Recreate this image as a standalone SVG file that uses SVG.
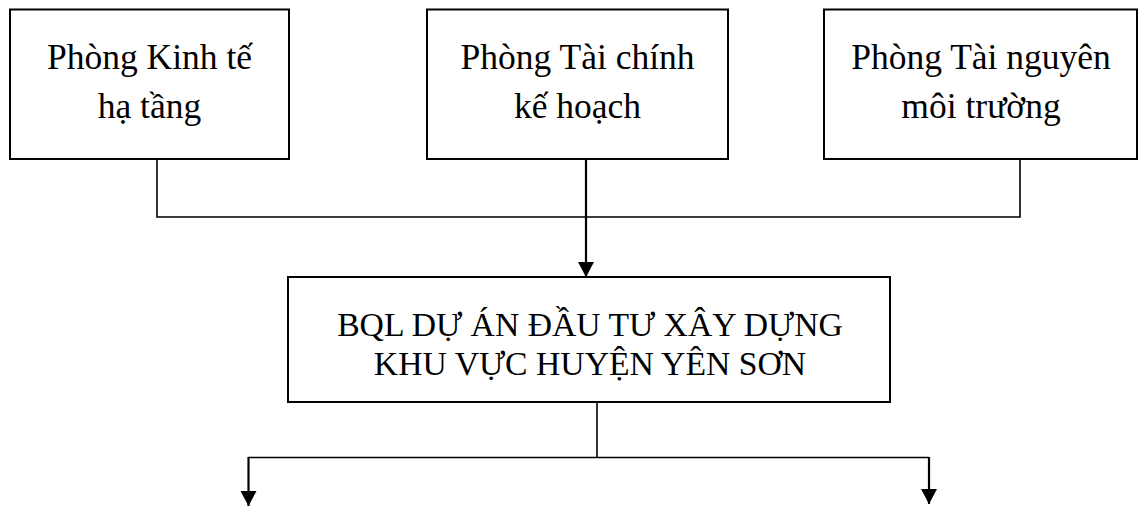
<svg xmlns="http://www.w3.org/2000/svg" width="1138" height="506" viewBox="0 0 1138 506">
<style>
.box{fill:#fff;stroke:#000;stroke-width:2}
.t{font-family:"Liberation Serif","Times New Roman",serif;font-size:35.5px;fill:#000;text-anchor:middle}
.t2{font-family:"Liberation Serif","Times New Roman",serif;font-size:33.7px;fill:#000;text-anchor:middle}
.c{fill:none;stroke:#000;stroke-width:1.6}
.a{fill:none;stroke:#000;stroke-width:2.2}
</style>
<defs>
<marker id="arr" viewBox="0 0 15 16" refX="15" refY="8" markerWidth="15" markerHeight="16" markerUnits="userSpaceOnUse" orient="auto">
<path d="M0,0 L15,8 L0,16 Z" fill="#000"/>
</marker>
</defs>
<g id="n1">
<rect class="box" x="10" y="9.5" width="279" height="149.5"/>
<text class="t" x="149.5" y="69">Phòng Kinh tế</text>
<text class="t" x="149.5" y="118">hạ tầng</text>
</g>
<g id="n2">
<rect class="box" x="427" y="9.5" width="301" height="149.5"/>
<text class="t" x="577.5" y="69">Phòng Tài chính</text>
<text class="t" x="577.5" y="118">kế hoạch</text>
</g>
<g id="n3">
<rect class="box" x="824" y="9.5" width="313" height="149.5"/>
<text class="t" x="981" y="69">Phòng Tài nguyên</text>
<text class="t" x="981" y="118">môi trường</text>
</g>
<g id="n4">
<rect class="box" x="288" y="277" width="602" height="125"/>
<text class="t2" x="590" y="336">BQL DỰ ÁN ĐẦU TƯ XÂY DỰNG</text>
<text class="t2" x="590" y="375">KHU VỰC HUYỆN YÊN SƠN</text>
</g>
<g id="connectors">
<polyline class="c" points="157,159 157,217 1020,217 1020,159"/>
<line class="a" x1="586" y1="159" x2="586" y2="277" marker-end="url(#arr)"/>
<line class="c" x1="597" y1="402" x2="597" y2="458"/>
<line class="c" x1="248" y1="457.5" x2="929" y2="457.5"/>
<line class="a" x1="248.5" y1="457" x2="248.5" y2="506" marker-end="url(#arr)"/>
<line class="a" x1="929" y1="457" x2="929" y2="504" marker-end="url(#arr)"/>
</g>
</svg>
